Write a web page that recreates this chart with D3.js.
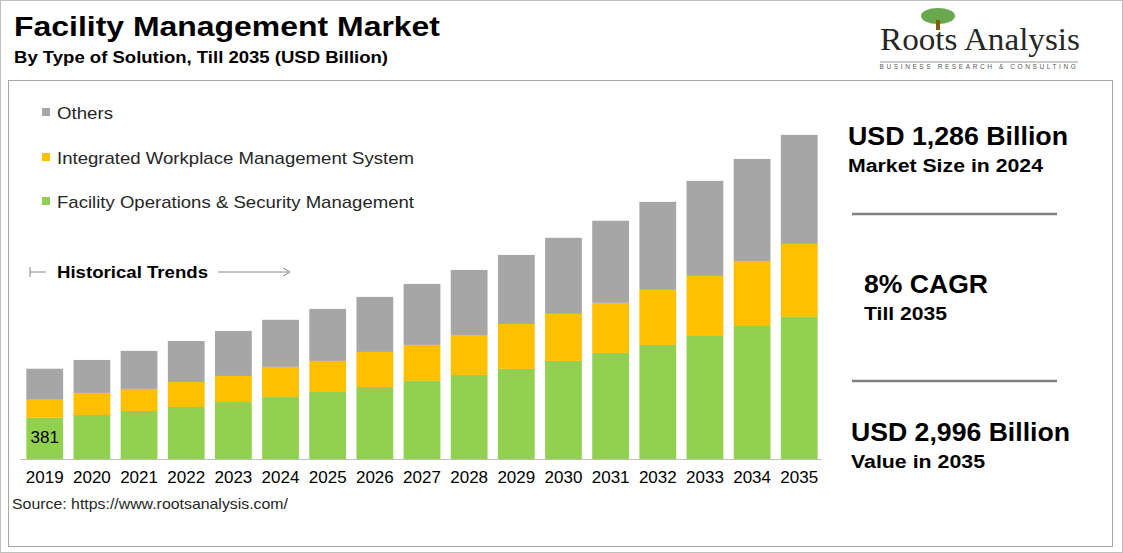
<!DOCTYPE html><html><head><meta charset="utf-8">
<script src="https://cdn.jsdelivr.net/npm/d3@7"></script>
<style>body{margin:0;background:#fff;font-family:Arial,"Liberation Sans",sans-serif}</style></head><body>
<svg id="c" width="1123" height="553"></svg>
<script>
const years=["2019","2020","2021","2022","2023","2024","2025","2026","2027","2028","2029","2030","2031","2032","2033","2034","2035"];
const facilityOps=[381,407,444,481,527,574,620,666,722,777,833,907,981,1055,1138,1230,1314];
const iwms=[167,204,204,231,241,278,287,324,333,370,416,435,463,509,555,601,675];
const others=[287,305,352,379,416,435,481,509,564,601,638,703,759,814,879,944,1008];
const seriesNames=["Facility Operations & Security Management","Integrated Workplace Management System","Others"];
const colors=["#92d050","#ffc000","#a6a6a6"];

const svg=d3.select("#c");
function txt(x,y,s,size,opts={}){
  const t=svg.append("text").attr("x",x).attr("y",y).attr("font-size",size).attr("fill",opts.fill||"#000").text(s);
  if(opts.bold)t.attr("font-weight","bold");
  if(opts.len)t.attr("textLength",opts.len).attr("lengthAdjust","spacingAndGlyphs");
  return t;
}
svg.append("rect").attr("x",0.5).attr("y",0.5).attr("width",1122).attr("height",552).attr("fill","none").attr("stroke","#bfbfbf");
svg.append("rect").attr("x",8.5).attr("y",80.5).attr("width",1104).attr("height",466).attr("fill","none").attr("stroke","#a6a6a6");

txt(14,36,"Facility Management Market",28,{bold:1,len:426});
txt(14,63,"By Type of Solution, Till 2035 (USD Billion)",16,{bold:1,len:374});

const lg=svg.append("g");
lg.append("ellipse").attr("cx",938).attr("cy",16).attr("rx",17).attr("ry",8).attr("fill","#6aa84f");
lg.append("rect").attr("x",936).attr("y",20).attr("width",4).attr("height",10).attr("fill","#7f6000");
lg.append("text").attr("x",880).attr("y",50).attr("font-family","Liberation Serif,serif").attr("font-size",31).attr("fill","#262626").attr("textLength",200).attr("lengthAdjust","spacingAndGlyphs").text("Roots Analysis");
lg.append("text").attr("x",979).attr("y",69).attr("text-anchor","middle").attr("font-size",6.5).attr("letter-spacing",2.6).attr("fill","#595959").text("BUSINESS RESEARCH & CONSULTING");
lg.append("line").attr("x1",880).attr("x2",1078).attr("y1",62).attr("y2",62).attr("stroke","#999");

const base=459;
const x=d3.scaleBand().domain(years).range([24,820]).paddingInner(0.22).paddingOuter(0.05);
const y=d3.scaleLinear().domain([0,2996]).range([base,135]);
const rows=years.map((yr,i)=>({year:yr,a:facilityOps[i],b:iwms[i],c:others[i]}));
const stack=d3.stack().keys(["a","b","c"])(rows);
stack.forEach((s,k)=>{
  svg.append("g").selectAll("rect").data(s).join("rect")
   .attr("x",d=>x(d.data.year)).attr("width",x.bandwidth())
   .attr("y",d=>y(d[1])).attr("height",d=>y(d[0])-y(d[1])).attr("fill",colors[k]);
});
svg.append("line").attr("x1",20).attr("x2",822).attr("y1",base+0.5).attr("y2",base+0.5).attr("stroke","#bfbfbf");
const ax=svg.append("g").attr("transform",`translate(0,${base})`).call(d3.axisBottom(x).tickSize(0).tickPadding(12));
ax.select(".domain").remove();
ax.selectAll("text").attr("font-size",17).attr("fill","#000").attr("font-family","Arial,Liberation Sans,sans-serif");
svg.append("text").attr("x",x("2019")+x.bandwidth()/2).attr("y",443).attr("text-anchor","middle").attr("font-size",17).text(facilityOps[0]);

[[2,114,56],[1,159,357],[0,203,357]].forEach(([k,yy,l])=>{
  svg.append("rect").attr("x",42).attr("y",yy-6).attr("width",8).attr("height",8).attr("fill",colors[k]);
  txt(57,yy+5,seriesNames[k],17,{fill:"#262626",len:l});
});
svg.append("line").attr("x1",30).attr("x2",46).attr("y1",272).attr("y2",272).attr("stroke","#888");
svg.append("line").attr("x1",30).attr("x2",30).attr("y1",267).attr("y2",277).attr("stroke","#888");
txt(57,278,"Historical Trends",17,{bold:1,len:151});
svg.append("line").attr("x1",218).attr("x2",288).attr("y1",272).attr("y2",272).attr("stroke","#888");
svg.append("path").attr("d","M283,268L290,272L283,276").attr("fill","none").attr("stroke","#888");

txt(12,509,"Source: https://www.rootsanalysis.com/",15,{fill:"#262626",len:276});

const rp=[[848,145,"USD 1,286 Billion",220,848,172,"Market Size in 2024",195],[864,293,"8% CAGR",124,864,320,"Till 2035",83],[851,441,"USD 2,996 Billion",219,851,468,"Value in 2035",134]];
rp.forEach(r=>{
  txt(r[0],r[1],r[2],25,{bold:1,len:r[3]});
  txt(r[4],r[5],r[6],18,{bold:1,len:r[7]});
});
[214,381].forEach(yy=>svg.append("line").attr("x1",852).attr("x2",1057).attr("y1",yy).attr("y2",yy).attr("stroke","#7f7f7f").attr("stroke-width",2.5));
</script></body></html>
